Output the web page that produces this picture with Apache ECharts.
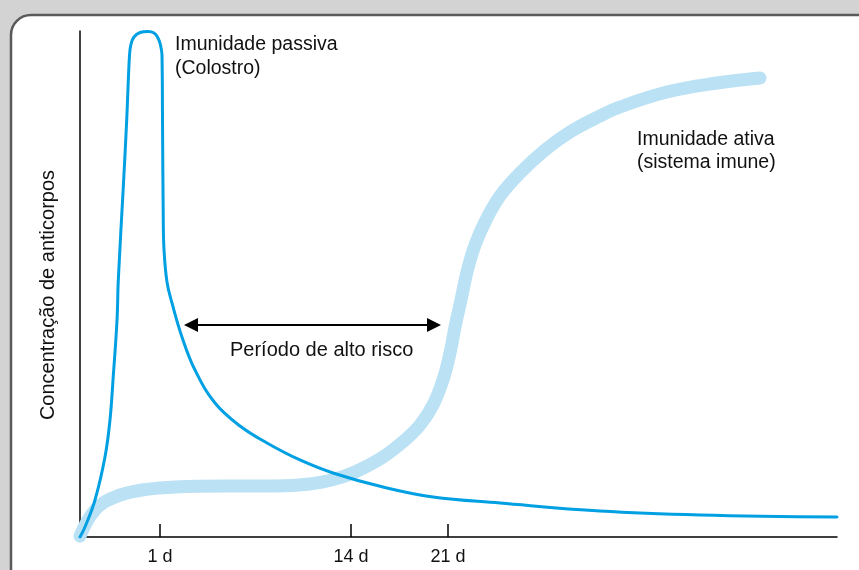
<!DOCTYPE html>
<html>
<head>
<meta charset="utf-8">
<script src="https://cdn.jsdelivr.net/npm/echarts@6/dist/echarts.min.js"></script>
<style>
  html, body { margin: 0; padding: 0; }
  #chart { width: 859px; height: 570px; }
</style>
</head>
<body>
<div id="chart"></div>
<script>
// tempo (escala arbitrária 0-100) e concentração (0-100)
var passivaX = [0, 0.66, 1.98, 3.30, 3.96, 4.36, 4.89, 5.06, 5.72, 6.17, 6.54, 6.74, 7.13, 7.93, 8.98, 9.78, 10.30, 10.63, 10.83, 10.90, 11.00, 11.10, 11.49, 12.15, 13.47, 15.19, 17.83, 21.14, 24.70, 29.06, 33.42, 40.03, 46.63, 55.48, 68.69, 81.90, 100];
var passivaY = [0, 1.98, 7.31, 15.81, 23.12, 31.03, 42.89, 50.79, 69.17, 82.41, 95.26, 97.43, 98.81, 99.70, 99.90, 99.60, 98.62, 97.23, 95.26, 82.41, 62.65, 56.72, 50.40, 46.25, 39.53, 33.00, 26.48, 21.94, 18.58, 15.22, 12.65, 9.88, 7.91, 6.72, 5.14, 4.35, 3.95];

var ativaX = [0, 1.98, 4.62, 8.19, 12.55, 19.15, 25.76, 30.38, 33.69, 36.33, 40.03, 42.93, 44.91, 46.63, 47.95, 48.88, 49.54, 50.33, 51.12, 52.18, 53.63, 55.48, 58.12, 61.43, 64.73, 68.69, 71.33, 77.54, 84.15, 89.83];
var ativaY = [0.2, 5.34, 7.91, 9.29, 9.88, 10.08, 10.08, 10.47, 11.46, 12.85, 15.81, 19.17, 22.13, 26.09, 31.03, 36.36, 41.50, 46.84, 52.37, 57.71, 62.65, 67.39, 71.94, 76.48, 80.04, 83.20, 84.98, 87.94, 89.72, 90.71];

var tickPos = [10.57, 35.8, 48.6];
var tickLabels = ['1 d', '14 d', '21 d'];

// seta do período de alto risco (centros das pontas)
var riscoInicio = 14.66;
var riscoFim = 46.76;
var riscoNivel = 41.9;

function pares(xs, ys) {
    var out = [];
    for (var i = 0; i < xs.length; i++) out.push([xs[i], ys[i]]);
    return out;
}

var fonte = '"Liberation Sans", Arial, sans-serif';
var myChart = echarts.init(document.getElementById('chart'));

myChart.setOption({
    animation: false,
    backgroundColor: '#d3d3d3',
    grid: { left: 80, top: 31, right: 22, bottom: 33 },
    xAxis: {
        type: 'value',
        min: 0,
        max: 100,
        splitLine: { show: false },
        axisLine: { lineStyle: { color: '#000', width: 1.5 } },
        axisTick: {
            customValues: tickPos,
            inside: true,
            length: 13,
            lineStyle: { color: '#000', width: 1.5 }
        },
        axisLabel: {
            customValues: tickPos,
            margin: 11,
            color: '#111',
            fontSize: 18,
            fontFamily: fonte,
            formatter: function (v) {
                var i = tickPos.indexOf(v);
                return i >= 0 ? tickLabels[i] : '';
            }
        }
    },
    yAxis: {
        type: 'value',
        min: 0,
        max: 100,
        splitLine: { show: false },
        axisLine: { show: true, lineStyle: { color: '#000', width: 1.5 } },
        axisTick: { show: false },
        axisLabel: { show: false }
    },
    graphic: [
        {
            type: 'rect',
            z: -10,
            shape: { x: 11, y: 15, width: 900, height: 600, r: 20 },
            style: { fill: '#fff', stroke: '#5a5a5a', lineWidth: 2.5 }
        },
        {
            type: 'text',
            x: 175, y: 56.5,
            style: {
                text: 'Imunidade passiva\n(Colostro)',
                font: '19.5px ' + fonte, fill: '#111',
                lineHeight: 24, verticalAlign: 'middle'
            }
        },
        {
            type: 'text',
            x: 637, y: 151,
            style: {
                text: 'Imunidade ativa\n(sistema imune)',
                font: '19.5px ' + fonte, fill: '#111',
                lineHeight: 23.5, verticalAlign: 'middle'
            }
        },
        {
            type: 'text',
            x: 230, y: 350.5,
            style: {
                text: 'Período de alto risco',
                font: '20px ' + fonte, fill: '#111',
                verticalAlign: 'middle'
            }
        },
        {
            type: 'text',
            x: 48, y: 295,
            rotation: Math.PI / 2,
            style: {
                text: 'Concentração de anticorpos',
                font: '20px ' + fonte, fill: '#111',
                align: 'center', verticalAlign: 'middle'
            }
        }
    ],
    series: [
        {
            name: 'Imunidade ativa',
            type: 'line',
            smooth: 0.4,
            showSymbol: false,
            data: pares(ativaX, ativaY),
            lineStyle: { color: '#bbe1f5', width: 13, cap: 'round', join: 'round' },
            z: 2
        },
        {
            name: 'Imunidade passiva',
            type: 'line',
            smooth: 0.4,
            showSymbol: false,
            data: pares(passivaX, passivaY),
            lineStyle: { color: '#00a0e3', width: 3, cap: 'round' },
            z: 3,
            markLine: {
                silent: true,
                symbol: ['triangle', 'triangle'],
                symbolSize: [14, 14],
                label: { show: false },
                lineStyle: { color: '#000', width: 2, type: 'solid' },
                itemStyle: { color: '#000' },
                data: [[
                    { coord: [riscoInicio, riscoNivel] },
                    { coord: [riscoFim, riscoNivel] }
                ]]
            }
        }
    ]
});
</script>
</body>
</html>
